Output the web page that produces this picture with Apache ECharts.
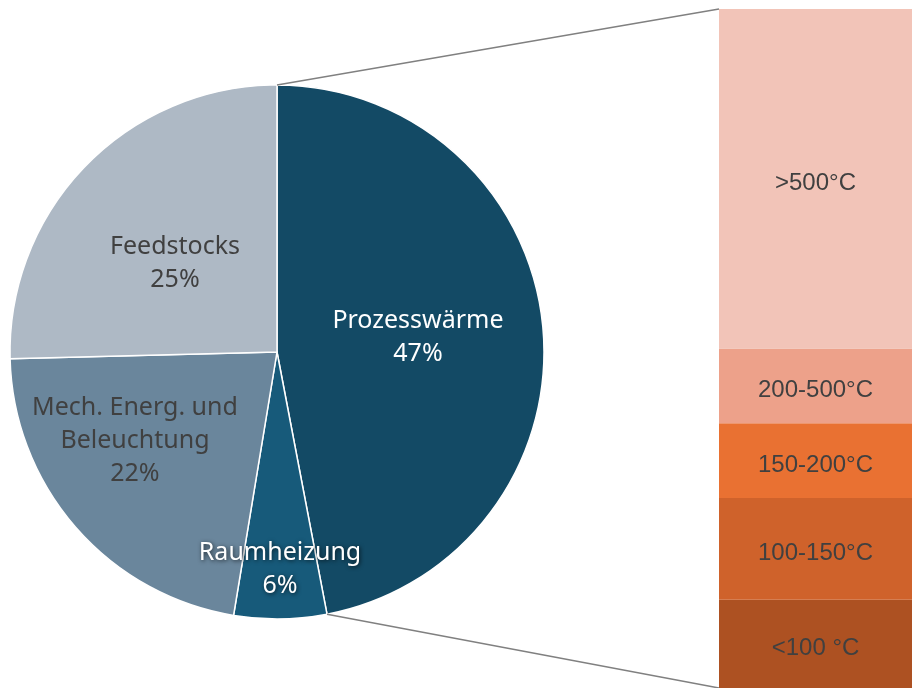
<!DOCTYPE html>
<html><head><meta charset="utf-8">
<script src="https://cdn.jsdelivr.net/npm/echarts@6/dist/echarts.min.js"></script>
<style>html,body{margin:0;padding:0;background:#fff}#c{width:912px;height:688px}</style>
</head><body><div id="c"></div>
<script>
// ---- data ----
const categories = ['Prozesswärme', 'Raumheizung', 'Mech. Energ. und\nBeleuchtung', 'Feedstocks'];
const shares = [47, 5.6, 22, 25.4];
const bands = ['<100 °C', '100-150°C', '150-200°C', '200-500°C', '>500°C'];
const bandShares = [13, 15, 11, 11, 50];

// ---- styling ----
const pieColors = ['#134A65', '#175A7A', '#6A869C', '#AEB9C5'];
const pieTextColors = ['#ffffff', '#ffffff', '#404040', '#404040'];
const bandColors = ['#AD5122', '#CF622B', '#E97132', '#EDA18A', '#F2C4B8'];
// label placement: [angle from top (deg, clockwise), radius fraction]
const labelPolar = [[83.9, 0.531], [179.2, 0.813], [237.9, 0.628], [311.1, 0.507]];
const CX = 277, CY = 352, R = 267;
const BAR_LEFT = 719, BAR_TOP = 9, BAR_BOTTOM = 0, W = 912, H = 688;

const chart = echarts.init(document.getElementById('c'));
const total = shares.reduce((a, b) => a + b, 0);

const pieData = categories.map((n, i) => ({
  name: n, value: shares[i],
  itemStyle: { color: pieColors[i] },
  label: {
    color: pieTextColors[i],
    textShadowColor: i === 1 ? 'rgba(0,0,0,0.7)' : 'transparent',
    textShadowBlur: i === 1 ? 4 : 0,
    textShadowOffsetX: i === 1 ? 1 : 0,
    textShadowOffsetY: i === 1 ? 1 : 0
  }
}));

const barSeries = bands.map((b, i) => ({
  type: 'bar', name: b, stack: 'all', data: [bandShares[i]],
  barWidth: '100%', barCategoryGap: 0,
  itemStyle: { color: bandColors[i] },
  label: { show: true, position: 'inside', formatter: '{a}', color: '#404040',
           fontFamily: 'Liberation Sans', fontSize: 24, offset: [0, 5] },
  silent: true
}));

// connector endpoints from pie geometry
const endAng = shares[0] / total * 2 * Math.PI;
const p1 = [CX, CY - R];
const p2 = [CX + R * Math.sin(endAng), CY - R * Math.cos(endAng)];

chart.setOption({
  animation: false,
  grid: { left: BAR_LEFT, right: 0, top: BAR_TOP, bottom: BAR_BOTTOM },
  xAxis: { type: 'category', data: ['x'], show: false },
  yAxis: { type: 'value', min: 0, max: 100, show: false },
  series: [{
    type: 'pie', center: [CX, CY], radius: R, startAngle: 90, clockwise: true,
    silent: true,
    itemStyle: { borderColor: '#ffffff', borderWidth: 1.5 },
    label: {
      show: true, position: 'inside', fontFamily: 'Noto Sans', fontSize: 25, lineHeight: 33,
      align: 'center',
      formatter: p => p.name + '\n' + Math.round(p.percent) + '%'
    },
    labelLine: { show: false },
    labelLayout: p => {
      const lp = labelPolar[p.dataIndex];
      const a = lp[0] * Math.PI / 180, r = lp[1] * R;
      return { x: CX + r * Math.sin(a), y: CY - r * Math.cos(a), align: 'center', verticalAlign: 'middle' };
    },
    data: pieData
  }].concat(barSeries),
  graphic: [
    { type: 'line', shape: { x1: p1[0], y1: p1[1], x2: BAR_LEFT, y2: BAR_TOP }, style: { stroke: '#808080', lineWidth: 1.5 }, z: 10 },
    { type: 'line', shape: { x1: p2[0], y1: p2[1], x2: BAR_LEFT, y2: H - BAR_BOTTOM }, style: { stroke: '#808080', lineWidth: 1.5 }, z: 10 }
  ]
});
</script></body></html>
